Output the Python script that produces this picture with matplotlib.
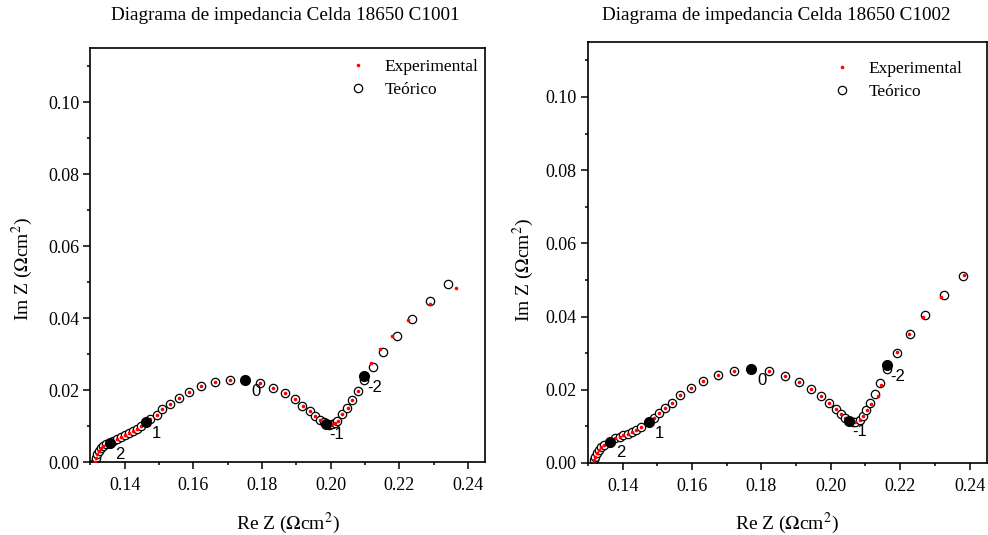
import matplotlib
matplotlib.use('Agg')
import matplotlib.pyplot as plt
from matplotlib.ticker import MultipleLocator

###############################################################################
# Data
###############################################################################

# Celda C1001 - theoretical fit (open circles)
c1001_teo_x = [0.1314, 0.1317, 0.1320, 0.1325, 0.1331, 0.1338, 0.1346, 0.1357,
               0.1367, 0.1378, 0.1390, 0.1401, 0.1413, 0.1425, 0.1436, 0.1449,
               0.1461, 0.1475, 0.1494, 0.1510, 0.1531, 0.1557, 0.1586, 0.1622,
               0.1662, 0.1706, 0.1751, 0.1793, 0.1833, 0.1867, 0.1895, 0.1917,
               0.1939, 0.1954, 0.1968, 0.1980, 0.1987, 0.1995, 0.2004, 0.2012,
               0.2019, 0.2033, 0.2048, 0.2062, 0.2080, 0.2098, 0.2123, 0.2153,
               0.2192, 0.2237, 0.2290, 0.2341]
c1001_teo_y = [0.0001, 0.0010, 0.0021, 0.0031, 0.0038, 0.0044, 0.0049, 0.0052,
               0.0059, 0.0065, 0.0070, 0.0075, 0.0080, 0.0085, 0.0093, 0.0101,
               0.0111, 0.0120, 0.0131, 0.0146, 0.0161, 0.0178, 0.0194, 0.0210,
               0.0221, 0.0228, 0.0228, 0.0219, 0.0206, 0.0192, 0.0174, 0.0156,
               0.0142, 0.0128, 0.0116, 0.0110, 0.0106, 0.0104, 0.0105, 0.0108,
               0.0113, 0.0133, 0.0149, 0.0171, 0.0197, 0.0228, 0.0264, 0.0305,
               0.0350, 0.0397, 0.0446, 0.0494]

# Celda C1001 - experimental (red dots)
c1001_exp_x = [0.1314, 0.1317, 0.1320, 0.1325, 0.1331, 0.1338, 0.1346, 0.1357,
               0.1367, 0.1378, 0.1390, 0.1401, 0.1413, 0.1425, 0.1436, 0.1449,
               0.1461, 0.1475, 0.1494, 0.1510, 0.1531, 0.1557, 0.1586, 0.1622,
               0.1662, 0.1706, 0.1751, 0.1793, 0.1833, 0.1867, 0.1896, 0.1918,
               0.1940, 0.1955, 0.1969, 0.1981, 0.1988, 0.1996, 0.2005, 0.2013,
               0.2020, 0.2034, 0.2049, 0.2063, 0.2080, 0.2098, 0.2116, 0.2142,
               0.2178, 0.2225, 0.2288, 0.2364]
c1001_exp_y = [0.0001, 0.0010, 0.0021, 0.0031, 0.0038, 0.0044, 0.0049, 0.0052,
               0.0059, 0.0065, 0.0070, 0.0075, 0.0080, 0.0085, 0.0093, 0.0101,
               0.0111, 0.0120, 0.0131, 0.0146, 0.0161, 0.0178, 0.0194, 0.0210,
               0.0221, 0.0228, 0.0228, 0.0219, 0.0206, 0.0192, 0.0174, 0.0156,
               0.0142, 0.0128, 0.0116, 0.0110, 0.0106, 0.0104, 0.0105, 0.0108,
               0.0114, 0.0134, 0.0150, 0.0172, 0.0198, 0.0236, 0.0276, 0.0313,
               0.0350, 0.0394, 0.0438, 0.0484]

# Celda C1001 - decade markers (log f)
c1001_dec_x = [0.1357, 0.1461, 0.1751, 0.1987, 0.2098]
c1001_dec_y = [0.0052, 0.0111, 0.0228, 0.0106, 0.0239]

# Celda C1002 - theoretical fit
c1002_teo_x = [0.1318, 0.1321, 0.1326, 0.1332, 0.1338, 0.1347, 0.1364, 0.1378,
               0.1391, 0.1402, 0.1414, 0.1426, 0.1439, 0.1452, 0.1476, 0.1491,
               0.1504, 0.1522, 0.1542, 0.1565, 0.1596, 0.1632, 0.1674, 0.1720,
               0.1771, 0.1821, 0.1868, 0.1909, 0.1944, 0.1972, 0.1996, 0.2016,
               0.2029, 0.2040, 0.2053, 0.2063, 0.2071, 0.2083, 0.2092, 0.2102,
               0.2113, 0.2128, 0.2142, 0.2162, 0.2192, 0.2228, 0.2272, 0.2325,
               0.2382]
c1002_teo_y = [0.0008, 0.0017, 0.0027, 0.0036, 0.0043, 0.0049, 0.0058, 0.0067,
               0.0072, 0.0076, 0.0079, 0.0085, 0.0090, 0.0098, 0.0112, 0.0124,
               0.0136, 0.0149, 0.0165, 0.0185, 0.0204, 0.0225, 0.0240, 0.0251,
               0.0256, 0.0251, 0.0238, 0.0222, 0.0202, 0.0183, 0.0163, 0.0148,
               0.0134, 0.0124, 0.0116, 0.0113, 0.0112, 0.0117, 0.0128, 0.0145,
               0.0163, 0.0189, 0.0218, 0.0257, 0.0301, 0.0351, 0.0404, 0.0459,
               0.0512]

# Celda C1002 - experimental
c1002_exp_x = [0.1318, 0.1321, 0.1326, 0.1332, 0.1338, 0.1347, 0.1364, 0.1378,
               0.1391, 0.1402, 0.1414, 0.1426, 0.1439, 0.1452, 0.1476, 0.1491,
               0.1504, 0.1522, 0.1542, 0.1565, 0.1596, 0.1632, 0.1674, 0.1720,
               0.1771, 0.1821, 0.1868, 0.1909, 0.1944, 0.1972, 0.1996, 0.2016,
               0.2029, 0.2040, 0.2053, 0.2063, 0.2071, 0.2083, 0.2094, 0.2104,
               0.2116, 0.2137, 0.2144, 0.2162, 0.2190, 0.2225, 0.2266, 0.2319,
               0.2383]
c1002_exp_y = [0.0008, 0.0017, 0.0027, 0.0036, 0.0043, 0.0049, 0.0058, 0.0067,
               0.0072, 0.0076, 0.0079, 0.0085, 0.0090, 0.0098, 0.0112, 0.0124,
               0.0136, 0.0149, 0.0165, 0.0185, 0.0204, 0.0225, 0.0240, 0.0251,
               0.0256, 0.0251, 0.0238, 0.0222, 0.0202, 0.0183, 0.0163, 0.0148,
               0.0134, 0.0124, 0.0116, 0.0113, 0.0112, 0.0117, 0.0127, 0.0144,
               0.0160, 0.0183, 0.0214, 0.0262, 0.0303, 0.0352, 0.0400, 0.0454,
               0.0513]

c1002_dec_x = [0.1364, 0.1476, 0.1771, 0.2053, 0.2162]
c1002_dec_y = [0.0058, 0.0112, 0.0256, 0.0116, 0.0267]

dec_labels = ['2', '1', '0', '-1', '-2']

titles = ['Diagrama de impedancia Celda 18650 C1001',
          'Diagrama de impedancia Celda 18650 C1002']

###############################################################################
# Plot
###############################################################################

plt.rcParams['font.family'] = ['Liberation Serif', 'DejaVu Serif']
plt.rcParams['mathtext.fontset'] = 'stix'


def panel(ax, teo_x, teo_y, exp_x, exp_y, dec_x, dec_y, legend_anchor):
    """Draw one Nyquist panel"""
    ax.plot(teo_x, teo_y, linestyle='none', marker='o', markersize=6,
            markerfacecolor='white', markeredgecolor='black',
            markeredgewidth=0.9, label='Teórico', zorder=2)
    ax.plot(exp_x, exp_y, linestyle='none', marker='o', markersize=2.6,
            markerfacecolor='red', markeredgecolor='red',
            markeredgewidth=0, label='Experimental', zorder=3)
    ax.plot(dec_x, dec_y, linestyle='none', marker='o', markersize=7,
            color='black', zorder=4)
    for x, y, lab in zip(dec_x, dec_y, dec_labels):
        ax.annotate(lab, (x, y), xytext=(7.5, -8), textcoords='offset points',
                    ha='center', va='center', fontsize=12,
                    family='Liberation Sans')

    ax.set_xlim(0.13, 0.245)
    ax.set_ylim(0.0, 0.115)
    ax.xaxis.set_major_locator(MultipleLocator(0.02))
    ax.xaxis.set_minor_locator(MultipleLocator(0.01))
    ax.yaxis.set_major_locator(MultipleLocator(0.02))
    ax.yaxis.set_minor_locator(MultipleLocator(0.01))
    ax.xaxis.set_major_formatter(matplotlib.ticker.FormatStrFormatter('%.2f'))
    ax.yaxis.set_major_formatter(matplotlib.ticker.FormatStrFormatter('%.2f'))
    ax.tick_params(which='both', direction='out', top=False, right=False,
                   labelsize=13, width=1.1)
    ax.tick_params(which='major', length=5)
    ax.tick_params(which='minor', length=2.5)
    ax.tick_params(axis='x', which='major', pad=5.5)
    ax.tick_params(axis='y', which='major', pad=3)
    for spine in ax.spines.values():
        spine.set_linewidth(1.2)

    ax.set_xlabel(r'Re Z ($\Omega$cm$^2$)', fontsize=14, labelpad=12)
    ax.set_ylabel(r'Im Z ($\Omega$cm$^2$)', fontsize=14)

    # Legend: experimental first
    handles, labels = ax.get_legend_handles_labels()
    ax.legend(handles[::-1], labels[::-1], loc='upper right',
              bbox_to_anchor=legend_anchor, frameon=False, fontsize=12.5,
              handlelength=1.5, handletextpad=0.8, labelspacing=0.37,
              borderaxespad=0.0, borderpad=0.4)


figure = plt.figure(figsize=(9.88, 5.35), dpi=100)
ax1 = figure.add_axes([0.0914, 0.1364, 0.3998, 0.7738])
ax2 = figure.add_axes([0.5951, 0.1346, 0.4038, 0.7869])

panel(ax1, c1001_teo_x, c1001_teo_y, c1001_exp_x, c1001_exp_y,
      c1001_dec_x, c1001_dec_y, (1.0, 0.990))
panel(ax2, c1002_teo_x, c1002_teo_y, c1002_exp_x, c1002_exp_y,
      c1002_dec_x, c1002_dec_y, (0.957, 0.9715))

ax1.yaxis.set_label_coords(-0.139, 0.466)
ax2.yaxis.set_label_coords(-0.130, 0.458)

figure.text(285 / 988, 1 - 15 / 535, titles[0], ha='center', va='center',
            fontsize=13.8)
figure.text(776 / 988, 1 - 15 / 535, titles[1], ha='center', va='center',
            fontsize=13.8)

figure.savefig('out.png', dpi=100)
